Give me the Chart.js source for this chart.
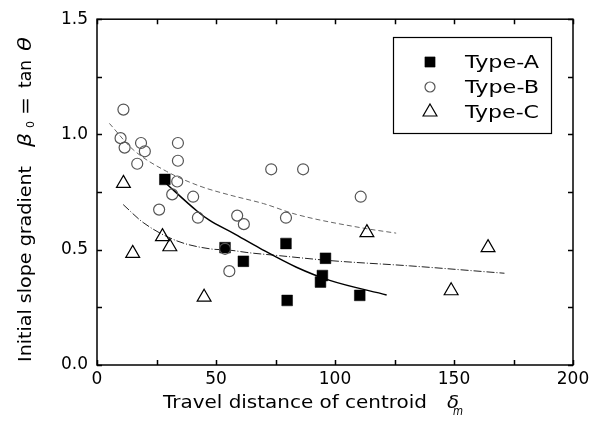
<!DOCTYPE html>
<html>
<head>
<meta charset="utf-8">
<script src="https://cdn.jsdelivr.net/npm/chart.js@4.4.1/dist/chart.umd.min.js"></script>
<style>
  html, body { margin: 0; padding: 0; background: #fff; }
</style>
</head>
<body>
<canvas id="myChart" width="600" height="430"></canvas>
<script>
// measured points
const typeA_x = [28.5, 53.8, 61.5, 79.4, 79.9, 96.0, 94.7, 93.9, 110.4];
const typeA_y = [0.805, 0.509, 0.450, 0.527, 0.280, 0.463, 0.388, 0.360, 0.302];

const typeB_x = [11.1, 9.9, 11.6, 18.5, 20.1, 16.9, 34.0, 34.0, 33.7, 31.6, 40.4, 26.1, 42.4, 58.9, 61.7, 73.2, 79.4, 86.6, 110.8, 55.6, 53.8];
const typeB_y = [1.108, 0.984, 0.943, 0.963, 0.927, 0.873, 0.963, 0.886, 0.796, 0.740, 0.730, 0.674, 0.639, 0.648, 0.611, 0.849, 0.639, 0.849, 0.730, 0.407, 0.504];

const typeC_x = [11.1, 15.0, 27.5, 30.6, 45.0, 113.4, 148.8, 164.3];
const typeC_y = [0.788, 0.484, 0.557, 0.513, 0.294, 0.574, 0.322, 0.509];

// fitted curves
const fitA_x = [28.2, 42.0, 47.2, 57.0, 68.5, 83.8, 97.8, 121.7];
const fitA_y = [0.795, 0.668, 0.628, 0.573, 0.506, 0.424, 0.367, 0.304];

const fitB_x = [5.2, 15.2, 29.2, 43.2, 55.9, 70.0, 83.8, 111.7, 125.7];
const fitB_y = [1.048, 0.934, 0.840, 0.776, 0.737, 0.700, 0.653, 0.594, 0.572];

const fitC_x = [11.0, 19.4, 33.4, 47.4, 56.0, 63.0, 76.8, 97.8, 131.4, 171.2];
const fitC_y = [0.696, 0.618, 0.539, 0.504, 0.498, 0.488, 0.474, 0.453, 0.430, 0.398];

const xTicks = [0, 50, 100, 150, 200];
const yTicks = [0.0, 0.5, 1.0, 1.5];
const legendOrder = ['Type-A', 'Type-B', 'Type-C'];

const toPoints = (xs, ys) => xs.map((x, i) => ({ x: x, y: ys[i] }));

const FONT = '"DejaVu Sans", Arial, sans-serif';

function fitText(ctx, text, x, y, width) {
    const w = ctx.measureText(text).width;
    ctx.save();
    ctx.translate(x, y);
    ctx.scale(width / w, 1);
    ctx.fillText(text, 0, 0);
    ctx.restore();
}

function marker(ctx, ds, x, y) {
    ctx.save();
    ctx.fillStyle = ds.pointBackgroundColor;
    ctx.strokeStyle = ds.pointBorderColor;
    ctx.lineWidth = ds.pointBorderWidth;
    Chart.helpers.drawPoint(ctx, {
        pointStyle: ds.pointStyle,
        radius: ds.legendRadius,
        rotation: 0,
        borderWidth: ds.pointBorderWidth
    }, x, y);
    ctx.restore();
}

const framePlugin = {
    id: 'frame',
    afterDraw(chart) {
        const ctx = chart.ctx;
        const a = chart.chartArea;
        const xs = chart.scales.x;
        const ys = chart.scales.y;
        ctx.save();
        ctx.strokeStyle = '#000';
        ctx.lineWidth = 1.5;
        ctx.strokeRect(a.left, a.top, a.right - a.left, a.bottom - a.top);
        ctx.beginPath();
        xs.ticks.forEach(t => {
            const px = Math.round(xs.getPixelForValue(t.value)) + 0.5;
            ctx.moveTo(px, a.bottom); ctx.lineTo(px, a.bottom - 5);
            ctx.moveTo(px, a.top); ctx.lineTo(px, a.top + 5);
        });
        ys.ticks.forEach(t => {
            const py = Math.round(ys.getPixelForValue(t.value)) + 0.5;
            ctx.moveTo(a.left, py); ctx.lineTo(a.left + 5, py);
            ctx.moveTo(a.right, py); ctx.lineTo(a.right - 5, py);
        });
        ctx.stroke();

        // axis titles
        ctx.fillStyle = '#000';
        ctx.textBaseline = 'alphabetic';
        ctx.textAlign = 'left';
        ctx.font = '18px ' + FONT;
        fitText(ctx, 'Travel distance of centroid', 163, 408, 264);
        ctx.font = 'italic 18px ' + FONT;
        fitText(ctx, 'δ', 447, 408, 12);
        ctx.font = 'italic 12px ' + FONT;
        fitText(ctx, 'm', 453, 415, 10);

        ctx.save();
        ctx.translate(31, 362);
        ctx.rotate(-Math.PI / 2);
        ctx.font = '18px ' + FONT;
        fitText(ctx, 'Initial slope gradient', 0, 0, 196);
        ctx.font = 'italic 18px ' + FONT;
        fitText(ctx, 'β', 215, 0, 14);
        ctx.font = '11px ' + FONT;
        fitText(ctx, '0', 234, 3, 7);
        ctx.font = '18px ' + FONT;
        fitText(ctx, '=', 247, 0, 18);
        fitText(ctx, 'tan', 274, 0, 28);
        ctx.font = 'italic 18px ' + FONT;
        fitText(ctx, 'θ', 311, 0, 14);
        ctx.restore();

        // legend box
        ctx.lineWidth = 1.2;
        ctx.strokeRect(393.5, 37.5, 158, 96);
        ctx.font = '17px ' + FONT;
        legendOrder.forEach((name, i) => {
            const ds = chart.data.datasets.find(d => d.label === name);
            const cy = 62 + i * 25;
            marker(ctx, ds, 430, cy);
            ctx.fillStyle = '#000';
            fitText(ctx, ds.label, 465, cy + 6, 74);
        });
        ctx.restore();
    }
};

const config = {
    type: 'scatter',
    data: {
        datasets: [
            {
                label: 'Type-B', order: 0,
                data: toPoints(typeB_x, typeB_y),
                pointStyle: 'circle', pointRadius: 5.5, legendRadius: 5,
                pointBackgroundColor: 'rgba(0,0,0,0)', pointBorderColor: '#555', pointBorderWidth: 1.2,
                backgroundColor: 'rgba(0,0,0,0)', borderColor: '#555'
            },
            {
                label: 'Type-A', order: 1,
                data: toPoints(typeA_x, typeA_y),
                pointStyle: 'rect', pointRadius: 7.6, legendRadius: 7.2,
                pointBackgroundColor: '#000', pointBorderColor: '#000', pointBorderWidth: 0.5,
                backgroundColor: '#000', borderColor: '#000'
            },
            {
                label: 'Type-C', order: 2,
                data: toPoints(typeC_x, typeC_y),
                pointStyle: 'triangle', pointRadius: 8, legendRadius: 8,
                pointBackgroundColor: 'rgba(0,0,0,0)', pointBorderColor: '#000', pointBorderWidth: 1.2,
                backgroundColor: 'rgba(0,0,0,0)', borderColor: '#000'
            },
            {
                label: 'fit A', order: 5,
                data: toPoints(fitA_x, fitA_y), showLine: true, pointRadius: 0,
                borderColor: '#000', borderWidth: 1.5, cubicInterpolationMode: 'monotone'
            },
            {
                label: 'fit B', order: 5,
                data: toPoints(fitB_x, fitB_y), showLine: true, pointRadius: 0,
                borderColor: '#666', borderWidth: 1, borderDash: [5, 3], cubicInterpolationMode: 'monotone'
            },
            {
                label: 'fit C', order: 5,
                data: toPoints(fitC_x, fitC_y), showLine: true, pointRadius: 0,
                borderColor: '#222', borderWidth: 1, borderDash: [8, 2, 1, 2], cubicInterpolationMode: 'monotone'
            }
        ]
    },
    options: {
        responsive: false,
        animation: false,
        layout: { padding: { top: 17, right: 27, left: 0, bottom: 0 } },
        plugins: {
            legend: { display: false },
            tooltip: { enabled: false }
        },
        scales: {
            x: {
                type: 'linear', min: 0, max: 200,
                grid: { display: false, drawTicks: false },
                border: { display: false },
                afterFit: s => { s.height = 65; },
                ticks: {
                    stepSize: 25, autoSkip: false, maxRotation: 0, padding: 4,
                    color: '#000', font: { family: FONT, size: 17 },
                    callback: v => xTicks.includes(v) ? String(v) : ''
                }
            },
            y: {
                type: 'linear', min: 0, max: 1.5,
                grid: { display: false, drawTicks: false },
                border: { display: false },
                afterFit: s => { s.width = 97; },
                ticks: {
                    stepSize: 0.25, autoSkip: false, padding: 9,
                    color: '#000', font: { family: FONT, size: 17 },
                    callback: v => yTicks.some(t => Math.abs(t - v) < 1e-6) ? v.toFixed(1) : ''
                }
            }
        }
    },
    plugins: [framePlugin]
};

const myChart = new Chart(document.getElementById('myChart'), config);
</script>
</body>
</html>
